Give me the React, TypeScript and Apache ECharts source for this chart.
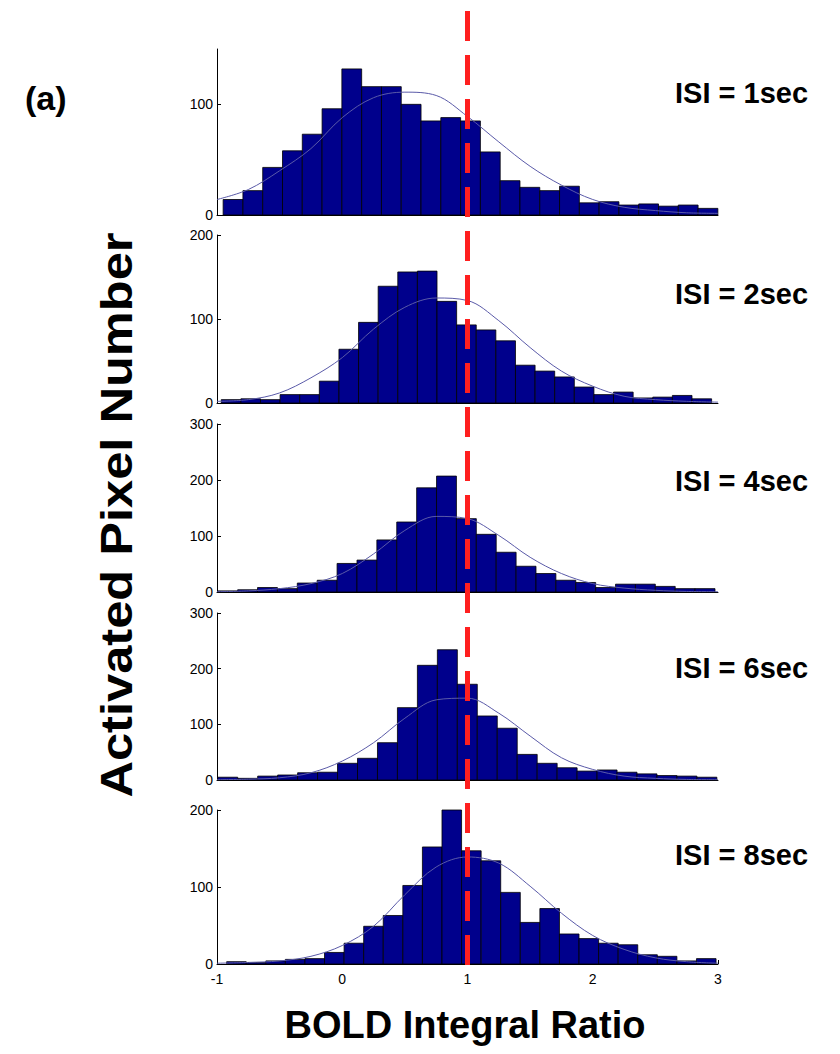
import React, { useEffect, useRef } from 'react';
import * as echarts from 'echarts';

// ---------- data ----------
const isiLabels = ['ISI = 1sec', 'ISI = 2sec', 'ISI = 4sec', 'ISI = 6sec', 'ISI = 8sec'];
const yMax = [150, 200, 300, 300, 200];
const yTicks1 = [0, 100];
const yTicks2 = [0, 100, 200];
const yTicks3 = [0, 100, 200, 300];
const yTicksList = [yTicks1, yTicks2, yTicks3, yTicks3, yTicks2];
const refX = 1; // red dashed reference line

// histogram bin start and width per panel
const binStart = [-0.951, -0.966, -0.994, -0.994, -0.923];
const binWidth = [0.158, 0.1566, 0.1588, 0.1594, 0.1563];

const counts1 = [14, 22, 43, 58, 73, 96, 132, 116, 116, 100, 85, 88, 85, 57, 31, 25, 22, 26, 11, 12, 9, 10, 8, 9, 6];
const counts2 = [4, 5, 4, 10, 10, 26, 64, 96, 139, 156, 157, 121, 93, 87, 74, 45, 38, 31, 19, 10, 13, 6, 7, 9, 5];
const counts3 = [2, 4, 8, 6, 16, 21, 51, 57, 93, 125, 186, 207, 131, 103, 71, 46, 33, 21, 17, 8, 14, 14, 10, 6, 6];
const counts4 = [5, 3, 7, 9, 13, 14, 30, 39, 67, 130, 206, 234, 172, 115, 93, 46, 30, 22, 16, 18, 14, 11, 8, 7, 5];
const counts5 = [3, 2, 4, 6, 7, 15, 27, 49, 63, 102, 152, 200, 147, 134, 93, 54, 72, 39, 33, 27, 25, 12, 10, 4, 7];
const countsList = [counts1, counts2, counts3, counts4, counts5];

// fitted curve at these x positions
const curveX = [-1, -0.75, -0.5, -0.25, 0, 0.25, 0.5, 0.75, 1, 1.25, 1.5, 1.75, 2, 2.25, 2.5, 2.75, 3];
const curve1 = [14, 23, 40, 60, 88, 106, 111, 108, 89, 66, 44, 27, 14, 7, 4, 2, 1.5];
const curve2 = [2, 4, 12, 30, 54, 88, 114, 125, 122, 98, 66, 38, 20, 8, 4, 2, 1];
const curve3 = [0.5, 2, 6, 15, 33, 68, 110, 135, 131, 101, 62, 33, 15, 7, 3, 1, 0.5];
const curve4 = [0.5, 1.5, 4, 13, 34, 67, 111, 144, 147, 120, 79, 40, 19, 7, 3, 1, 0.5];
const curve5 = [1, 2, 4, 10, 24, 49, 90, 126, 139, 131, 101, 66, 37, 19, 8, 3, 1];
const curveList = [curve1, curve2, curve3, curve4, curve5];

// ---------- layout ----------
const W = 840;
const H = 1054;
const gridLeft = 217;
const gridRight = 122;
const gridTops = [49, 235, 424, 613, 810];
const gridHeights = [166, 168, 168, 167, 154];
const isiY = [93, 294, 481, 668, 855];
const FONT = 'Liberation Sans, Arial, Helvetica, sans-serif';

export default function App() {
  const ref = useRef<HTMLDivElement>(null);
  useEffect(() => {
    document.body.style.margin = '0';
    const chart = echarts.init(ref.current!, null, { renderer: 'svg' });
    const grids: any[] = [];
    const xAxes: any[] = [];
    const yAxes: any[] = [];
    const series: any[] = [];
    for (let i = 0; i < 5; i++) {
      const last = i === 4;
      grids.push({ left: gridLeft, right: gridRight, top: gridTops[i], height: gridHeights[i] });
      xAxes.push({
        type: 'value', gridIndex: i, min: -1, max: 3, interval: 1,
        axisLine: { show: true, onZero: false, lineStyle: { color: '#000', width: 1 } },
        axisTick: { show: last, inside: true, length: 4, lineStyle: { color: '#000' } },
        axisLabel: { show: last, color: '#000', fontSize: 14, fontFamily: FONT, margin: 8 },
        splitLine: { show: false },
      });
      yAxes.push({
        type: 'value', gridIndex: i, min: 0, max: yMax[i],
        axisLine: { show: true, onZero: false, lineStyle: { color: '#000', width: 1 } },
        axisTick: { show: true, inside: true, length: 4, customValues: yTicksList[i], lineStyle: { color: '#000' } },
        axisLabel: { show: true, color: '#000', fontSize: 14, fontFamily: FONT, margin: 4, customValues: yTicksList[i] },
        splitLine: { show: false },
      });
      const bins = countsList[i].map((c, k) => [
        binStart[i] + k * binWidth[i],
        binStart[i] + (k + 1) * binWidth[i],
        c,
      ]);
      series.push({
        type: 'custom', xAxisIndex: i, yAxisIndex: i, data: bins,
        encode: { x: [0, 1], y: 2 },
        renderItem: (params: any, api: any) => {
          const p0 = api.coord([api.value(0), api.value(2)]);
          const p1 = api.coord([api.value(1), 0]);
          return {
            type: 'rect',
            shape: { x: p0[0], y: p0[1], width: p1[0] - p0[0], height: p1[1] - p0[1] },
            style: { fill: '#00008c', stroke: '#000000', lineWidth: 0.8 },
          };
        },
        z: 2,
      });
      series.push({
        type: 'line', xAxisIndex: i, yAxisIndex: i,
        data: curveX.map((x, k) => [x, curveList[i][k]]),
        smooth: 0.35, showSymbol: false, symbol: 'none',
        lineStyle: { color: '#5a5aa8', width: 1 },
        z: 3,
      });
    }
    // overlay grid for the full-height reference line
    grids.push({ left: gridLeft, right: gridRight, top: 0, bottom: H - 965 });
    xAxes.push({ type: 'value', gridIndex: 5, min: -1, max: 3, show: false });
    yAxes.push({ type: 'value', gridIndex: 5, min: 0, max: 1, show: false });
    series.push({
      type: 'line', xAxisIndex: 5, yAxisIndex: 5,
      data: [[refX, 0]], showSymbol: false, symbol: 'none',
      lineStyle: { opacity: 0 },
      markLine: {
        silent: true, symbol: 'none', label: { show: false },
        lineStyle: { color: '#ff1f1f', width: 5, type: [30, 14] },
        data: [{ xAxis: refX }],
      },
      z: 10,
    });

    const texts: any[] = [
      {
        type: 'text', left: 25, top: 81,
        style: { text: '(a)', font: `bold 34px ${FONT}`, fill: '#000' },
      },
      {
        type: 'text', x: 465, y: 1025,
        style: { text: 'BOLD Integral Ratio', font: `bold 38px ${FONT}`, fill: '#000', align: 'center', verticalAlign: 'middle' },
      },
      {
        type: 'text', x: 117, y: 515, rotation: Math.PI / 2, scaleX: 1.15,
        style: { text: 'Activated Pixel Number', font: `bold 44px ${FONT}`, fill: '#000', align: 'center', verticalAlign: 'middle' },
      },
    ];
    isiLabels.forEach((t, i) => {
      texts.push({
        type: 'text', x: 675, y: isiY[i],
        style: { text: t, font: `bold 29px ${FONT}`, fill: '#000', align: 'left', verticalAlign: 'middle' },
      });
    });

    chart.setOption({
      animation: false,
      backgroundColor: '#fff',
      grid: grids,
      xAxis: xAxes,
      yAxis: yAxes,
      series,
      graphic: texts,
    });
    return () => chart.dispose();
  }, []);
  return <div ref={ref} style={{ width: W, height: H }} />;
}
